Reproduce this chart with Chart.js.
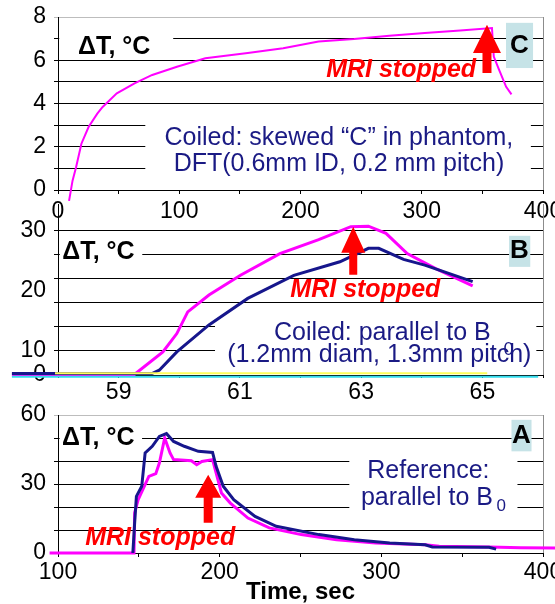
<!DOCTYPE html>
<html>
<head>
<meta charset="utf-8">
<script src="https://cdn.jsdelivr.net/npm/chart.js@4.4.1/dist/chart.umd.min.js"></script>
<style>
  html, body { margin: 0; padding: 0; background: #fff; }
  #wrap { position: relative; width: 555px; height: 604px; overflow: hidden; }
  canvas { position: absolute; left: 0; }
</style>
</head>
<body>
<div id="wrap">
  <canvas id="panel-c" width="555" height="230" style="top:0;width:555px;height:230px"></canvas>
  <canvas id="panel-b" width="555" height="215" style="top:200px;width:555px;height:215px"></canvas>
  <canvas id="panel-a" width="555" height="204" style="top:400px;width:555px;height:204px"></canvas>
</div>
<script>
// panel C - coiled, skewed "C" in phantom (time in s)
const cTime = [9.1, 12, 14.9, 19.3, 25.2, 32.4, 36.8, 48.5, 63.1, 77.7, 98.1, 121.5, 156.5, 185.7, 214.9, 244.1, 273.3, 302.5, 331.7, 357.9, 359.4, 363.8, 369.6, 374];
const cTemp = [-0.5, 0.43, 1.05, 2.14, 2.91, 3.53, 3.84, 4.47, 4.93, 5.32, 5.7, 6.09, 6.33, 6.56, 6.87, 6.98, 7.13, 7.26, 7.38, 7.49, 6.17, 5.55, 4.77, 4.42];

// panel B - coiled, parallel to B0 (time axis 58..66)
const bTimeMag = [57.24, 59.26, 59.73, 59.96, 60.14, 60.49, 61.01, 61.66, 62.30, 62.83, 63.12, 63.41, 63.76, 64.23, 64.84];
const bMag = [0, 0.1, 4.8, 8.6, 13.1, 16.6, 20.7, 25.2, 28.1, 30.8, 30.9, 29.4, 25.2, 22.1, 18.5];
const bTimeNavy = [57.24, 59.55, 59.67, 59.96, 60.49, 61.13, 61.89, 62.65, 63.12, 63.29, 63.70, 64.05, 64.84];
const bNavy = [0.3, 0.3, 1.0, 4.8, 10.4, 15.9, 20.7, 23.5, 26.3, 26.3, 24.0, 22.8, 19.4];
const bTimeYellow = [57.95, 65.08];
const bYellow = [0.35, 0.35];
const bTimeCyan = [57.24, 65.92];
const bCyan = [-0.35, -0.35];

// panel A - reference, parallel to B0
const aTimeMag = [94.8, 147.0, 147.4, 149.6, 156.2, 160.5, 162.7, 166.0, 169.3, 171.5, 182.5, 185.8, 189.0, 195.6, 197.8, 201.1, 206.6, 217.5, 230.7, 250.4, 272.3, 296.4, 327.1, 335.8, 366.6, 386.3, 407.7];
const aMag = [0, 0, 17.4, 23.2, 33.3, 34.5, 39.1, 50, 43.5, 40.6, 40.1, 38.4, 39.8, 40.6, 34.8, 26.1, 21.7, 15.2, 10.9, 8, 5.8, 4.3, 3.6, 2.9, 2.6, 2.3, 2.2];
const aTimeNavy = [146.3, 147.4, 148.5, 151.8, 153.9, 158.3, 162.7, 167.1, 171.5, 178.1, 186.8, 195.6, 197.8, 202.2, 208.7, 221.9, 235.0, 261.4, 283.3, 305.2, 327.1, 331.5, 366.6, 371.0];
const aNavy = [0, 13, 24.6, 29, 43.5, 46.4, 50.7, 51.9, 48.5, 46.4, 44.2, 43.7, 37.7, 29, 23.2, 15.9, 11.6, 8, 5.8, 4.3, 3.6, 2.6, 2.5, 1.7];

// ticks
const cXTicks = [0, 50, 100, 150, 200, 250, 300, 350, 400];
const cXLabels = [0, 100, 200, 300, 400];
const cYTicks = [0, 1, 2, 3, 4, 5, 6, 7, 8];
const cYLabelAt = [0, 2, 4, 6, 8];
const cYLabels = ['0', '2', '4', '6', '8'];

const bXTicks = [58, 59, 60, 61, 62, 63, 64, 65, 66];
const bXLabels = [59, 61, 63, 65];
const bYTicks = [0, 5, 10, 15, 17.5, 20, 25, 30];
const bYLabelAt = [0, 5, 17.5, 30];
const bYLabels = ['0', '10', '20', '30'];

const aXTicks = [100, 150, 200, 250, 300, 350, 400];
const aXLabels = [100, 200, 300, 400];
const aYTicks = [0, 10, 20, 30, 40, 50, 60];
const aYLabelAt = [0, 30, 60];
const aYLabels = ['0', '30', '60'];

Chart.defaults.font.family = '"Liberation Sans", Arial, Helvetica, sans-serif';
Chart.defaults.font.size = 23;
Chart.defaults.color = '#000';

const MAGENTA = '#ff00ff';
const NAVY = '#16168c';
const RED = '#ff0000';
const BLUE = '#1a1a84';
const TAG = '#c6e3e7';
const FONT = '"Liberation Sans", Arial, sans-serif';

// text boxes, labels and arrows, placed in data units of each panel
const notes = {
  'panel-c': {
    boxes: [[1, 95, 7.3, 6.1, '#fff'], [72, 390, 3.2, 0.43, '#fff'], [369.5, 391.8, 7.73, 5.64, TAG]],
    texts: [
      { t: 16.5, v: 6.62, s: 'ΔT, °C', font: 'bold 25px', color: '#000', align: 'left' },
      { t: 380.6, v: 6.69, s: 'C', font: 'bold 26px', color: '#000', align: 'center' },
      { t: 283, v: 5.55, s: 'MRI stopped', font: 'italic bold 25px', color: RED, align: 'center' },
      { t: 231.7, v: 2.38, s: 'Coiled: skewed “C” in phantom,', font: '25px', color: BLUE, align: 'center' },
      { t: 231.7, v: 1.22, s: 'DFT(0.6mm ID, 0.2 mm pitch)', font: '25px', color: BLUE, align: 'center' }
    ],
    arrow: { t: 353.8, tip: 7.64, base: 6.34, end: 5.41, head: 14, shaft: 4.5 }
  },
  'panel-b': {
    boxes: [[58.03, 59.39, 28.1, 22.7, '#fff'], [60.59, 65.89, 12.3, 1.9, '#fff'], [65.44, 65.79, 28.9, 22.45, TAG]],
    texts: [
      { t: 58.07, v: 25.6, s: 'ΔT, °C', font: 'bold 25px', color: '#000', align: 'left' },
      { t: 65.61, v: 25.7, s: 'B', font: 'bold 26px', color: '#000', align: 'center' },
      { t: 63.07, v: 17.7, s: 'MRI stopped', font: 'italic bold 25px', color: RED, align: 'center' },
      { t: 63.35, v: 8.7, s: 'Coiled: parallel to B', font: '25px', color: BLUE, align: 'center' },
      { t: 65.35, v: 5.2, s: '0', font: '18px', color: BLUE, align: 'left' },
      { t: 63.3, v: 4.2, s: '(1.2mm diam, 1.3mm pitch)', font: '25px', color: BLUE, align: 'center' }
    ],
    arrow: { t: 62.87, tip: 30.8, base: 25.4, end: 20.8, head: 12, shaft: 4 }
  },
  'panel-a': {
    boxes: [[101, 152, 54.5, 44, '#fff'], [280.2, 384.2, 42.7, 16.7, '#fff'], [380.5, 392.9, 57.9, 44.2, TAG]],
    texts: [
      { t: 102.5, v: 50, s: 'ΔT, °C', font: 'bold 25px', color: '#000', align: 'left' },
      { t: 386.7, v: 51, s: 'A', font: 'bold 26px', color: '#000', align: 'center' },
      { t: 163.2, v: 6.5, s: 'MRI stopped', font: 'italic bold 25px', color: RED, align: 'center' },
      { t: 329.1, v: 35.5, s: 'Reference:', font: '25px', color: BLUE, align: 'center' },
      { t: 328.2, v: 23.9, s: 'parallel to B', font: '25px', color: BLUE, align: 'center' },
      { t: 371.2, v: 20.1, s: '0', font: '17px', color: BLUE, align: 'left' }
    ],
    arrow: { t: 192.9, tip: 34, base: 24, end: 13.2, head: 13, shaft: 4.5 }
  }
};

const panelNotes = {
  id: 'panelNotes',
  beforeDatasetsDraw(chart) {
    const n = notes[chart.canvas.id];
    const { ctx, chartArea: a, scales: { x, y } } = chart;
    ctx.save();
    ctx.strokeStyle = '#8c8c8c';
    ctx.lineWidth = 1;
    ctx.beginPath();
    ctx.moveTo(a.right + 0.5, a.top);
    ctx.lineTo(a.right + 0.5, a.bottom);
    ctx.stroke();
    n.boxes.forEach(b => {
      const x1 = x.getPixelForValue(b[0]), x2 = x.getPixelForValue(b[1]);
      const y1 = y.getPixelForValue(b[2]), y2 = y.getPixelForValue(b[3]);
      ctx.fillStyle = b[4];
      ctx.fillRect(Math.min(x1, x2), Math.min(y1, y2), Math.abs(x2 - x1), Math.abs(y2 - y1));
    });
    ctx.restore();
  },
  afterDatasetsDraw(chart) {
    const n = notes[chart.canvas.id];
    const { ctx, scales: { x, y } } = chart;
    ctx.save();
    const ar = n.arrow;
    const ax = x.getPixelForValue(ar.t);
    const yTip = y.getPixelForValue(ar.tip), yBase = y.getPixelForValue(ar.base), yEnd = y.getPixelForValue(ar.end);
    ctx.fillStyle = RED;
    ctx.beginPath();
    ctx.moveTo(ax, yTip);
    ctx.lineTo(ax + ar.head, yBase);
    ctx.lineTo(ax + ar.shaft, yBase);
    ctx.lineTo(ax + ar.shaft, yEnd);
    ctx.lineTo(ax - ar.shaft, yEnd);
    ctx.lineTo(ax - ar.shaft, yBase);
    ctx.lineTo(ax - ar.head, yBase);
    ctx.closePath();
    ctx.fill();
    ctx.textBaseline = 'middle';
    n.texts.forEach(tx => {
      ctx.font = tx.font + ' ' + FONT;
      ctx.fillStyle = tx.color;
      ctx.textAlign = tx.align;
      ctx.fillText(tx.s, x.getPixelForValue(tx.t), y.getPixelForValue(tx.v));
    });
    ctx.restore();
  }
};

function pts(xs, ys) {
  return xs.map((t, i) => ({ x: t, y: ys[i] }));
}

function series(xs, ys, color, width) {
  return { data: pts(xs, ys), borderColor: color, borderWidth: width, pointRadius: 0, tension: 0, fill: false, clip: false };
}

function makePanel(id, datasets, o) {
  new Chart(document.getElementById(id), {
    type: 'line',
    data: { datasets },
    options: {
      responsive: false,
      animation: false,
      events: [],
      layout: { padding: { top: o.top, right: 12, left: 0, bottom: 0 } },
      plugins: { legend: { display: false }, tooltip: { enabled: false } },
      scales: {
        x: {
          type: 'linear',
          min: o.xMin,
          max: o.xMax,
          afterBuildTicks: s => { s.ticks = o.xTicks.map(v => ({ value: v })); },
          afterFit: s => { s.height = o.xH; s.paddingLeft = 0; s.paddingRight = 0; },
          ticks: {
            autoSkip: false, maxRotation: 0, padding: o.xPad,
            callback: v => (o.xLabels.includes(v) ? String(v) : '')
          },
          grid: { drawOnChartArea: false, tickLength: o.xTick, color: '#000' },
          border: { color: '#000' },
          title: o.title
            ? { display: true, text: o.title, color: '#000', padding: 0, font: { size: 24, weight: 'bold', lineHeight: 1 } }
            : { display: false }
        },
        y: {
          min: o.yMin,
          max: o.yMax,
          afterBuildTicks: s => { s.ticks = o.yTicks.map(v => ({ value: v })); },
          afterFit: s => { s.width = 58; s.paddingTop = 0; s.paddingBottom = 0; },
          ticks: {
            autoSkip: false, padding: 8,
            callback: v => { const i = o.yLabelAt.indexOf(v); return i < 0 ? '' : o.yLabels[i]; }
          },
          grid: {
            tickLength: 4,
            color: c => (o.yHidden.includes(c.tick.value) ? 'rgba(0,0,0,0)' : c.tick.value === o.yGrayTop ? '#bdbdbd' : '#000')
          },
          border: { color: '#000' }
        }
      }
    },
    plugins: [panelNotes]
  });
}

makePanel('panel-c', [series(cTime, cTemp, MAGENTA, 2)], {
  top: 17, xH: 40, xPad: 4, xTick: 4,
  xMin: 0, xMax: 400, xTicks: cXTicks, xLabels: cXLabels,
  yMin: 0, yMax: 8, yTicks: cYTicks, yLabelAt: cYLabelAt, yLabels: cYLabels, yHidden: [], yGrayTop: 8
});

makePanel('panel-b', [
  series(bTimeCyan, bCyan, '#33dced', 2),
  series(bTimeYellow, bYellow, '#ffff5a', 2),
  series(bTimeNavy, bNavy, NAVY, 3),
  series(bTimeMag, bMag, MAGENTA, 3)
], {
  top: 4, xH: 40, xPad: 1, xTick: 3,
  xMin: 58, xMax: 66, xTicks: bXTicks, xLabels: bXLabels,
  yMin: 0, yMax: 35.5, yTicks: bYTicks, yLabelAt: bYLabelAt, yLabels: bYLabels, yHidden: [17.5], yGrayTop: null
});

makePanel('panel-a', [
  series(aTimeNavy, aNavy, NAVY, 3),
  series(aTimeMag, aMag, MAGENTA, 3)
], {
  top: 15, xH: 51, xPad: 2, xTick: 4, title: 'Time, sec',
  xMin: 100, xMax: 400, xTicks: aXTicks, xLabels: aXLabels,
  yMin: 0, yMax: 60, yTicks: aYTicks, yLabelAt: aYLabelAt, yLabels: aYLabels, yHidden: [], yGrayTop: 60
});
</script>
</body>
</html>
